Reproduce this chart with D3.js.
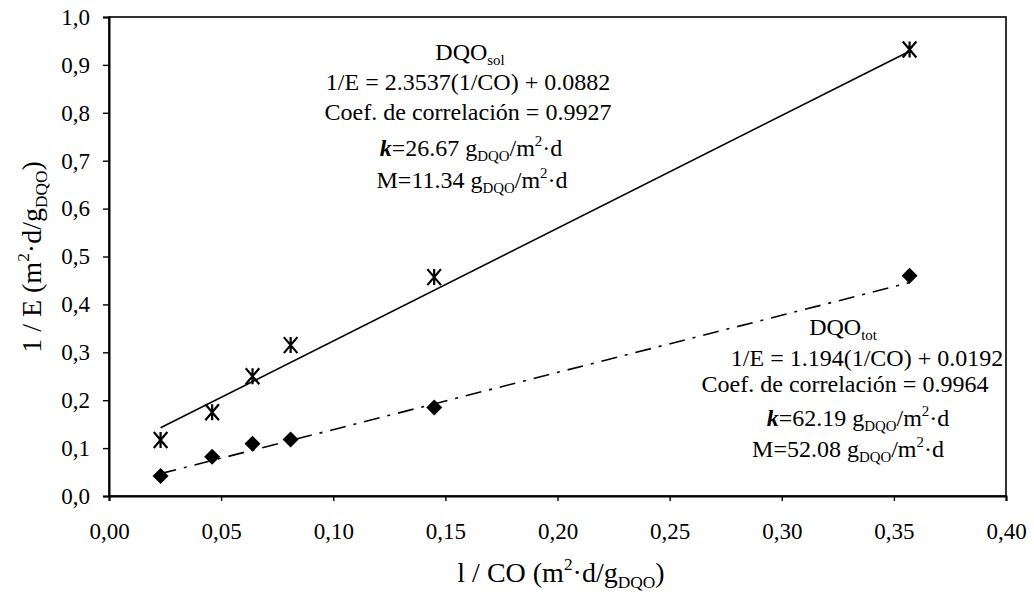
<!DOCTYPE html>
<html>
<head>
<meta charset="utf-8">
<script src="https://cdn.jsdelivr.net/npm/d3@7"></script>
<style>
  body { margin: 0; background: #fff; }
  svg { display: block; font-family: "Liberation Serif", "Times New Roman", serif; }
</style>
</head>
<body>
<svg width="1034" height="599"></svg>
<script>
// data
var coValues = [0.023, 0.046, 0.064, 0.081, 0.145, 0.357];   // 1/CO
var solValues = [0.117, 0.175, 0.250, 0.315, 0.457, 0.932];  // 1/E, DQO sol
var totValues = [0.042, 0.082, 0.109, 0.118, 0.185, 0.460];  // 1/E, DQO tot
var solFit = { slope: 2.3537, intercept: 0.0882 };
var totFit = { slope: 1.194, intercept: 0.0192 };
var xTicks = [0, 0.05, 0.10, 0.15, 0.20, 0.25, 0.30, 0.35, 0.40];
var yTicks = [0, 0.1, 0.2, 0.3, 0.4, 0.5, 0.6, 0.7, 0.8, 0.9, 1.0];

var solNotes = [
  [{t: "DQO"}, {t: "sol", sub: true}],
  [{t: "1/E = 2.3537(1/CO) + 0.0882"}],
  [{t: "Coef. de correlación = 0.9927"}],
  [{t: "k", i: true, b: true}, {t: "=26.67 g"}, {t: "DQO", sub: true}, {t: "/m"}, {t: "2", sup: true}, {t: "·d"}],
  [{t: "M=11.34 g"}, {t: "DQO", sub: true}, {t: "/m"}, {t: "2", sup: true}, {t: "·d"}]
];
var totNotes = [
  [{t: "DQO"}, {t: "tot", sub: true}],
  [{t: "1/E = 1.194(1/CO) + 0.0192"}],
  [{t: "Coef. de correlación = 0.9964"}],
  [{t: "k", i: true, b: true}, {t: "=62.19 g"}, {t: "DQO", sub: true}, {t: "/m"}, {t: "2", sup: true}, {t: "·d"}],
  [{t: "M=52.08 g"}, {t: "DQO", sub: true}, {t: "/m"}, {t: "2", sup: true}, {t: "·d"}]
];

var svg = d3.select("svg");
var plotLeft = 109, plotRight = 1006, plotTop = 17, plotBottom = 496;

var x = d3.scaleLinear().domain([0, 0.4]).range([plotLeft, plotRight]);
var y = d3.scaleLinear().domain([0, 1]).range([plotBottom, plotTop]);

var comma = function (n) { return function (d) { return d.toFixed(n).replace(".", ","); }; };

// frame
svg.append("rect")
  .attr("x", plotLeft).attr("y", plotTop)
  .attr("width", plotRight - plotLeft).attr("height", plotBottom - plotTop)
  .attr("fill", "none").attr("stroke", "#000").attr("stroke-width", 1.6);

var xAxis = svg.append("g")
  .attr("transform", "translate(0," + plotBottom + ")")
  .call(d3.axisBottom(x).tickValues(xTicks).tickSize(5).tickPadding(22).tickFormat(comma(2)));

var yAxis = svg.append("g")
  .attr("transform", "translate(" + plotLeft + ",0)")
  .call(d3.axisLeft(y).tickValues(yTicks).tickSize(6).tickPadding(13).tickFormat(comma(1)));

[xAxis, yAxis].forEach(function (g) {
  g.select(".domain").attr("stroke-width", 2);
  g.selectAll(".tick line").attr("stroke-width", 1.4);
  g.selectAll(".tick text")
    .attr("font-family", "Liberation Serif")
    .attr("font-size", 23)
    .attr("fill", "#000");
});

// custom markers
var star = {
  draw: function (ctx, size) {
    var r = Math.sqrt(size) / 2, w = r * 0.85;
    ctx.moveTo(-w, -r); ctx.lineTo(w, r);
    ctx.moveTo(w, -r); ctx.lineTo(-w, r);
    ctx.moveTo(0, -r); ctx.lineTo(0, r);
  }
};
var diamond = {
  draw: function (ctx, size) {
    var r = Math.sqrt(size) / 2;
    ctx.moveTo(0, -r); ctx.lineTo(r, 0); ctx.lineTo(0, r); ctx.lineTo(-r, 0); ctx.closePath();
  }
};

// fit lines
var xMin = d3.min(coValues), xMax = d3.max(coValues);
var line = d3.line().x(function (d) { return x(d); });

svg.append("path")
  .datum([xMin, xMax])
  .attr("d", line.y(function (d) { return y(solFit.slope * d + solFit.intercept); }))
  .attr("fill", "none").attr("stroke", "#000").attr("stroke-width", 1.6);

svg.append("path")
  .datum([xMin, xMax])
  .attr("d", line.y(function (d) { return y(totFit.slope * d + totFit.intercept); }))
  .attr("fill", "none").attr("stroke", "#000").attr("stroke-width", 1.6)
  .attr("stroke-dasharray", "16,8,3,8");

// points
svg.append("g").selectAll("path")
  .data(coValues)
  .enter().append("path")
  .attr("transform", function (d, i) { return "translate(" + x(d) + "," + y(solValues[i]) + ")"; })
  .attr("d", d3.symbol().type(star).size(256))
  .attr("fill", "none").attr("stroke", "#000").attr("stroke-width", 2.2);

svg.append("g").selectAll("path")
  .data(coValues)
  .enter().append("path")
  .attr("transform", function (d, i) { return "translate(" + x(d) + "," + y(totValues[i]) + ")"; })
  .attr("d", d3.symbol().type(diamond).size(256))
  .attr("fill", "#000");

// rich text helper: subscripts / superscripts via dy
function rich(text, parts, size) {
  var shift = 0;
  parts.forEach(function (p) {
    var ts = text.append("tspan").text(p.t);
    var target = p.sub ? 0.22 * size : (p.sup ? -0.42 * size : 0);
    ts.attr("dy", target - shift);
    shift = target;
    if (p.sub || p.sup) ts.attr("font-size", size * 0.62);
    if (p.i) ts.attr("font-style", "italic");
    if (p.b) ts.attr("font-weight", "bold");
  });
}

function notes(lines, xs, ys) {
  lines.forEach(function (parts, i) {
    var t = svg.append("text")
      .attr("x", xs[i]).attr("y", ys[i])
      .attr("text-anchor", "middle")
      .attr("font-size", 24)
      .attr("fill", "#000");
    rich(t, parts, 24);
  });
}

notes(solNotes, [470, 468, 468, 471, 472], [60, 90, 120, 156, 188]);
notes(totNotes, [843, 867, 845, 858, 848], [335, 366, 392, 426, 457]);

// axis titles
var xt = svg.append("text")
  .attr("x", 561).attr("y", 582)
  .attr("text-anchor", "middle").attr("font-size", 28).attr("fill", "#000");
rich(xt, [{t: "l / CO (m"}, {t: "2", sup: true}, {t: "·d/g"}, {t: "DQO", sub: true}, {t: ")"}], 28);

var yt = svg.append("text")
  .attr("transform", "translate(41,257) rotate(-90)")
  .attr("text-anchor", "middle").attr("font-size", 28).attr("fill", "#000");
rich(yt, [{t: "1 / E (m"}, {t: "2", sup: true}, {t: "·d/g"}, {t: "DQO", sub: true}, {t: ")"}], 28);
</script>
</body>
</html>
